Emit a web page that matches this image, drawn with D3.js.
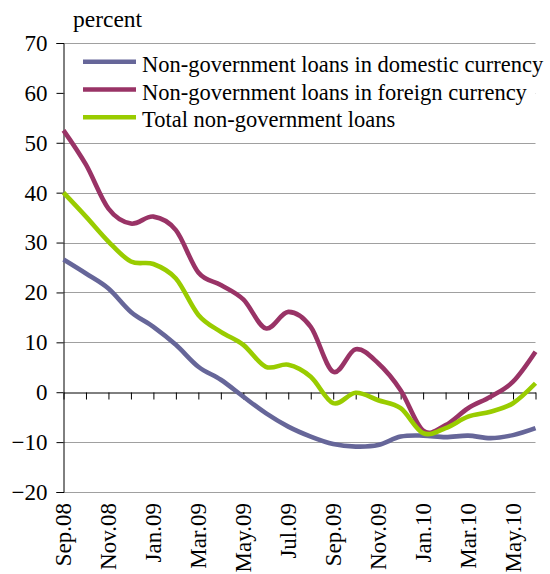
<!DOCTYPE html>
<html>
<head>
<meta charset="utf-8">
<script src="https://cdn.jsdelivr.net/npm/d3@7/dist/d3.min.js"></script>
<style>
  html, body { margin: 0; padding: 0; background: #fff; }
  svg { display: block; }
  text { font-family: "Liberation Serif", "Times New Roman", serif; fill: #000; }
</style>
</head>
<body>
<svg id="chart" width="550" height="574"></svg>
<script>
// Monthly observations, Sep.08 – Jun.10 (annual growth, percent)
const months = ["Sep.08","Oct.08","Nov.08","Dec.08","Jan.09","Feb.09","Mar.09","Apr.09",
  "May.09","Jun.09","Jul.09","Aug.09","Sep.09","Oct.09","Nov.09","Dec.09",
  "Jan.10","Feb.10","Mar.10","Apr.10","May.10","Jun.10"];

const domestic = [26.6, 23.8, 20.8, 16.1, 13.1, 9.5, 5.1, 2.5, -0.9, -4.2, -6.9, -8.9,
  -10.4, -10.9, -10.6, -8.9, -8.7, -9.0, -8.7, -9.2, -8.6, -7.2];

const foreign = [52.5, 45.6, 36.8, 33.8, 35.2, 32.5, 24.0, 21.5, 18.6, 12.8, 16.1, 13.1,
  4.1, 8.6, 5.8, 0.4, -7.7, -6.6, -3.2, -0.9, 2.1, 8.1];

const total = [40.0, 35.2, 30.2, 26.2, 25.7, 22.8, 15.5, 12.1, 9.5, 5.1, 5.5, 3.1,
  -2.2, -0.1, -1.6, -3.2, -8.2, -7.2, -4.9, -3.9, -2.2, 1.8];

const seriesNames = [
  "Non-government loans in domestic currency",
  "Non-government loans in foreign currency",
  "Total non-government loans"
];
const seriesColors = ["#666699", "#993366", "#99cc00"];
const seriesValues = [domestic, foreign, total];

const xLabels = ["Sep.08","Nov.08","Jan.09","Mar.09","May.09","Jul.09",
  "Sep.09","Nov.09","Jan.10","Mar.10","May.10"];
const yTicks = [-20, -10, 0, 10, 20, 30, 40, 50, 60, 70];

const svg = d3.select("#chart");
const plotLeft = 63.5, plotRight = 535.5, plotTop = 43, plotBottom = 492;
const fontSize = 23;

const x = d3.scalePoint().domain(months).range([plotLeft, plotRight]);
const y = d3.scaleLinear().domain([-20, 70]).range([plotBottom, plotTop]);

// horizontal gridlines
svg.append("g")
  .selectAll("line")
  .data(yTicks.filter(v => v !== 0))
  .join("line")
  .attr("x1", plotLeft).attr("x2", plotRight)
  .attr("y1", d => Math.round(y(d)) + 0.5).attr("y2", d => Math.round(y(d)) + 0.5)
  .attr("stroke", "#a0a0a0").attr("stroke-width", 1);

// legend background hides the gridline behind it
svg.append("rect")
  .attr("x", plotLeft + 1).attr("y", 50)
  .attr("width", plotRight - plotLeft - 1).attr("height", 82)
  .attr("fill", "#fff");

// y axis
const yAxis = d3.axisLeft(y).tickValues(yTicks).tickSize(7).tickPadding(9)
  .tickFormat(d3.format("d"));
const gy = svg.append("g")
  .attr("transform", `translate(${plotLeft},0)`)
  .call(yAxis);
gy.select(".domain").attr("stroke", "#000");
gy.selectAll(".tick line").attr("stroke", "#000");
gy.selectAll(".tick text").attr("font-size", fontSize);

// x axis at zero with ticks at every month
const xAxis = d3.axisBottom(x).tickSize(7).tickSizeOuter(0).tickFormat("");
const gx = svg.append("g")
  .attr("transform", `translate(0,${Math.round(y(0)) + 0.5})`)
  .call(xAxis);
gx.select(".domain").attr("stroke", "#000");
gx.selectAll(".tick line").attr("stroke", "#000");

// rotated month labels below the plot
svg.append("g")
  .selectAll("text")
  .data(xLabels)
  .join("text")
  .attr("transform", d => `translate(${x(d)},${plotBottom + 11}) rotate(-90)`)
  .attr("text-anchor", "end")
  .attr("dy", "0.33em")
  .attr("font-size", fontSize)
  .text(d => d);

// unit label
svg.append("text")
  .attr("x", 73).attr("y", 27)
  .attr("font-size", 23.5)
  .text("percent");

// series lines
const line = d3.line()
  .x((d, i) => x(months[i]))
  .y(d => y(d))
  .curve(d3.curveCatmullRom.alpha(0));

svg.append("g")
  .selectAll("path")
  .data(seriesValues)
  .join("path")
  .attr("d", d => line(d))
  .attr("fill", "none")
  .attr("stroke", (d, i) => seriesColors[i])
  .attr("stroke-width", 4.6)
  .attr("stroke-linejoin", "round")
  .attr("stroke-linecap", "butt");

// legend
const legend = svg.append("g");
const rowY = [61.7, 89.5, 117.3];
seriesNames.forEach((name, i) => {
  legend.append("line")
    .attr("x1", 83).attr("x2", 136)
    .attr("y1", rowY[i]).attr("y2", rowY[i])
    .attr("stroke", seriesColors[i]).attr("stroke-width", 4.6);
  legend.append("text")
    .attr("x", 142).attr("y", rowY[i] + 10)
    .attr("font-size", 22.5)
    .text(name);
});
</script>
</body>
</html>
